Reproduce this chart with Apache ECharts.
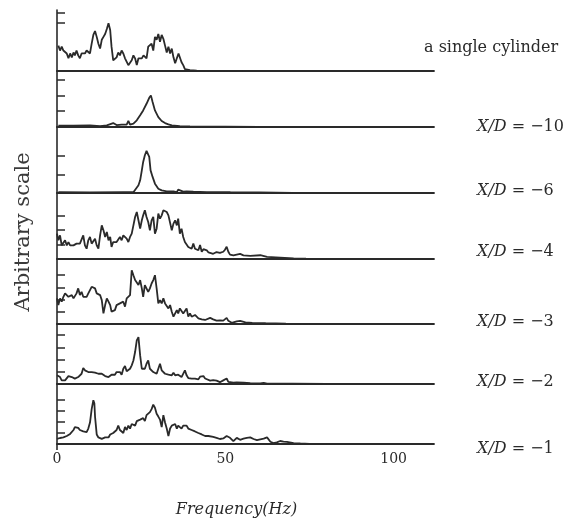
<!DOCTYPE html>
<html>
<head>
<meta charset="utf-8">
<script src="https://cdn.jsdelivr.net/npm/echarts@6/dist/echarts.min.js"></script>
<style>
  html, body { margin: 0; padding: 0; background: #fff; }
  #main { width: 579px; height: 519px; }
</style>
</head>
<body>
<div id="main"></div>
<script>
// spectra, [frequency Hz, amplitude in tick units]
var singleCylinder = [[0.4,2.6],[0.9,2.1],[1.4,2.5],[1.9,2.1],[2.4,2.3],[2.9,1.8],[3.4,1.3],[3.9,1.8],[4.4,1.4],[4.9,1.9],[5.3,1.6],[5.8,2.1],[6.3,1.6],[6.8,1.3],[7.3,1.8],[7.8,1.9],[8.3,1.8],[8.8,2.1],[9.3,1.9],[9.8,1.8],[10.3,2.8],[10.8,3.7],[11.3,4.1],[11.8,3.5],[12.3,2.8],[12.8,2.3],[13.3,3.2],[13.8,3.5],[14.3,3.8],[14.8,4.3],[15.3,4.9],[15.8,4.2],[16.2,2.5],[16.7,1.1],[17.2,0.9],[17.7,1.4],[18.2,1.9],[18.7,1.6],[19.2,2.1],[19.7,1.8],[20.2,1.3],[20.7,1.1],[21.2,0.6],[21.7,0.6],[22.2,1.1],[22.7,1.6],[23.2,1.3],[23.7,0.6],[24.2,1.3],[24.7,1.4],[25.2,1.3],[25.7,1.6],[26.1,1.4],[26.6,1.3],[27.1,2.5],[27.6,2.3],[28.1,2.8],[28.6,2.1],[29.1,3.5],[29.6,3.2],[30.1,3.8],[30.6,3.0],[31.1,3.7],[31.6,3.3],[32.1,2.6],[32.6,1.9],[33.1,2.5],[33.6,1.8],[34.1,2.3],[34.6,1.4],[35.1,0.8],[35.6,1.3],[36.1,1.8],[36.5,1.6],[37.0,0.9],[37.5,0.6],[38.0,0.2],[38.5,0.2],[39.5,0.1],[40.0,0.1],[41.5,0.03],[45,0.02],[55,0]];
var xd10 = [[0.4,0.08],[4.9,0.08],[9.8,0.1],[12.8,0.06],[14.8,0.1],[16.7,0.25],[17.7,0.12],[19.2,0.15],[20.7,0.15],[21.2,0.38],[21.7,0.15],[22.7,0.21],[23.7,0.42],[24.7,0.74],[25.6,1.05],[26.6,1.47],[27.4,1.85],[27.9,2.0],[28.4,1.58],[29.1,1.05],[30.1,0.63],[31.1,0.38],[32.1,0.25],[33.1,0.17],[34.1,0.1],[36.5,0.06],[39.5,0.04],[50,0.02],[60,0]];
var xd6 = [[0.4,0.04],[9.8,0.03],[19.7,0.04],[22.7,0.04],[23.2,0.11],[24.2,0.41],[24.7,0.68],[25.2,1.21],[25.6,1.66],[26.1,2.02],[26.6,2.25],[27.1,2.29],[27.4,1.93],[27.8,1.21],[28.4,0.86],[29.1,0.5],[30.1,0.23],[31.1,0.14],[32.6,0.09],[34.6,0.09],[35.6,0.05],[36.0,0.18],[36.5,0.11],[37.5,0.07],[38.5,0.09],[40.5,0.07],[44.5,0.05],[50.5,0.05],[51.0,0.11],[51.5,0.04],[60,0.03],[70,0]];
var xd4 = [[0,1.75],[0.4,1.29],[0.9,1.63],[1.4,0.94],[1.9,1.06],[2.4,1.29],[2.9,0.94],[3.4,1.17],[3.9,0.94],[4.4,1.06],[4.9,0.94],[5.3,0.83],[5.8,1.06],[6.3,0.94],[6.8,1.06],[7.3,1.17],[7.8,1.63],[8.3,0.94],[8.8,0.71],[9.3,1.29],[9.8,1.52],[10.3,1.06],[10.8,1.06],[11.3,1.4],[11.8,0.94],[12.3,0.71],[12.8,1.63],[13.3,2.32],[13.8,1.98],[14.3,1.52],[14.8,1.86],[15.3,1.29],[15.8,1.52],[16.2,0.83],[16.7,1.17],[17.2,1.06],[17.7,1.17],[18.2,1.29],[18.7,1.52],[19.2,1.29],[19.7,1.63],[20.2,1.52],[20.7,1.4],[21.2,1.17],[21.7,1.52],[22.2,1.75],[22.7,2.32],[23.2,2.9],[23.7,3.24],[24.2,2.67],[24.7,2.09],[25.2,2.67],[25.6,3.01],[26.1,3.36],[26.6,2.9],[27.1,2.55],[27.6,1.98],[28.1,2.67],[28.6,2.9],[29.1,1.75],[29.6,2.09],[30.1,3.13],[30.6,2.78],[31.1,3.01],[31.6,3.36],[32.1,3.47],[32.6,3.24],[33.1,3.01],[33.6,2.9],[34.1,1.98],[34.6,2.44],[35.1,2.67],[35.6,2.32],[36.0,2.78],[36.5,1.75],[37.0,2.09],[37.5,1.52],[38.0,1.17],[38.5,1.29],[39.0,0.83],[39.5,0.94],[40.0,0.71],[40.5,1.06],[41.0,0.71],[41.5,0.83],[42.0,0.6],[42.5,0.97],[43.0,0.5],[43.5,0.68],[44.0,0.6],[44.5,0.6],[45.0,0.45],[45.5,0.41],[46.4,0.36],[47.4,0.48],[48.4,0.42],[49.4,0.5],[49.9,0.64],[50.4,0.85],[50.9,0.5],[51.4,0.3],[51.9,0.18],[52.4,0.25],[53.4,0.3],[54.4,0.35],[55.4,0.25],[57.4,0.22],[60.4,0.26],[62.4,0.14],[66.3,0.1],[70.3,0.05],[74,0.02],[80,0]];
var xd3 = [[0,2.1],[0.4,1.55],[0.9,2.1],[1.4,1.83],[1.9,2.23],[2.4,2.51],[2.9,2.64],[3.4,2.23],[3.9,2.1],[4.4,2.37],[4.9,2.1],[5.3,2.23],[5.8,2.51],[6.3,2.92],[6.8,2.37],[7.3,2.64],[7.8,2.23],[8.3,2.37],[8.8,2.23],[9.3,2.51],[9.8,2.78],[10.3,3.05],[10.8,3.19],[11.3,2.92],[11.8,2.51],[12.3,2.37],[12.8,2.37],[13.3,1.96],[13.8,0.87],[14.3,1.55],[14.8,2.1],[15.3,1.83],[15.8,1.55],[16.2,1.01],[16.7,0.87],[17.2,1.14],[17.7,1.55],[18.2,1.55],[18.7,1.69],[19.2,1.69],[19.7,1.83],[20.2,1.42],[20.7,2.1],[21.2,2.23],[21.7,2.37],[22.2,4.41],[22.7,4.0],[23.2,3.6],[23.7,3.46],[24.2,3.19],[24.7,3.6],[25.2,2.92],[25.6,2.23],[26.1,3.19],[26.6,3.32],[27.1,2.64],[27.6,2.92],[28.1,3.32],[28.6,3.6],[29.1,4.0],[29.6,2.92],[30.1,1.69],[30.6,1.96],[31.1,1.69],[31.6,2.1],[32.1,1.69],[32.6,1.83],[33.1,1.28],[33.6,1.55],[34.1,1.01],[34.6,0.6],[35.1,0.74],[35.6,1.14],[36.0,0.87],[36.5,1.28],[37.0,1.14],[37.5,0.87],[38.0,1.01],[38.5,1.28],[39.0,0.6],[39.5,0.87],[40.0,0.6],[40.5,0.6],[41.0,0.74],[41.5,0.87],[42.0,0.46],[42.5,0.45],[43.0,0.38],[43.5,0.44],[44.0,0.33],[44.5,0.34],[45.5,0.5],[46.0,0.52],[46.4,0.38],[47.4,0.28],[48.4,0.3],[49.4,0.28],[49.9,0.38],[50.4,0.5],[50.9,0.26],[51.4,0.12],[51.9,0.1],[52.4,0.08],[53.4,0.22],[54.4,0.25],[56,0.14],[58,0.1],[62,0.07],[68,0.03],[75,0]];
var xd2 = [[0,0.71],[0.4,0.65],[0.9,0.57],[1.4,0.3],[1.9,0.22],[2.4,0.3],[2.9,0.44],[3.4,0.65],[3.9,0.49],[4.4,0.57],[4.9,0.49],[5.3,0.44],[5.8,0.49],[6.3,0.57],[6.8,0.71],[7.3,0.84],[7.8,1.31],[8.3,1.12],[8.8,0.98],[9.3,0.98],[9.8,1.04],[10.3,0.98],[10.8,0.98],[11.3,0.93],[11.8,0.98],[12.3,0.84],[12.8,0.76],[13.3,0.84],[13.8,0.71],[14.3,0.65],[14.8,0.71],[15.3,0.57],[15.8,0.65],[16.2,0.76],[16.7,0.65],[17.2,0.76],[17.7,0.98],[18.2,1.12],[18.7,0.98],[19.2,0.76],[19.7,1.25],[20.2,1.47],[20.7,1.04],[21.2,1.12],[21.7,1.25],[22.2,1.53],[22.7,1.93],[23.2,2.62],[23.7,3.57],[24.2,3.84],[24.7,2.34],[25.2,1.25],[25.6,1.39],[26.1,1.25],[26.6,1.66],[27.1,1.93],[27.6,1.25],[28.1,1.12],[28.6,0.98],[29.1,1.12],[29.6,0.84],[30.1,1.25],[30.6,1.66],[31.1,1.12],[31.6,0.98],[32.1,0.84],[32.6,0.98],[33.1,0.76],[33.6,0.84],[34.1,0.71],[34.6,0.93],[35.1,0.71],[35.6,0.57],[36.0,0.76],[36.5,0.71],[37.0,0.57],[37.5,0.49],[38.0,1.12],[38.5,0.71],[39.0,0.49],[39.5,0.57],[40.0,0.44],[40.5,0.3],[41.0,0.44],[41.5,0.49],[42.0,0.38],[42.5,0.6],[43.0,0.57],[43.5,0.65],[44.0,0.45],[44.5,0.35],[45.5,0.28],[46.4,0.32],[47.4,0.28],[48.4,0.15],[49.4,0.3],[49.9,0.28],[50.4,0.45],[50.9,0.18],[51.4,0.2],[52.4,0.11],[53.4,0.14],[55.4,0.11],[57.4,0.06],[60.4,0.05],[61.4,0.1],[62.4,0.03],[70,0.02],[80,0]];
var xd1 = [[0,0.46],[0.4,0.59],[0.9,0.54],[1.4,0.46],[1.9,0.59],[2.4,0.64],[2.9,0.72],[3.4,0.86],[3.9,0.91],[4.4,0.99],[4.9,1.26],[5.3,1.53],[5.8,1.66],[6.3,1.45],[6.8,1.26],[7.3,1.39],[7.8,1.13],[8.3,1.26],[8.8,1.07],[9.3,1.39],[9.8,1.93],[10.3,3.14],[10.8,3.94],[11.1,3.67],[11.3,2.47],[11.8,0.86],[12.3,0.59],[12.8,0.54],[13.3,0.46],[13.8,0.46],[14.3,0.59],[14.8,0.64],[15.3,0.59],[15.8,0.86],[16.2,0.72],[16.7,0.99],[17.2,0.86],[17.7,1.26],[18.2,1.66],[18.7,1.26],[19.2,1.39],[19.7,0.99],[20.2,1.53],[20.7,1.26],[21.2,1.66],[21.7,1.39],[22.2,1.8],[22.7,1.93],[23.2,1.66],[23.7,2.06],[24.2,1.93],[24.7,2.2],[25.2,2.06],[25.6,2.33],[26.1,2.06],[26.6,2.6],[27.1,2.47],[27.6,2.87],[28.1,3.14],[28.6,3.54],[29.1,3.27],[29.6,2.73],[30.1,2.47],[30.6,2.2],[31.1,1.53],[31.6,2.6],[32.1,1.93],[32.6,1.39],[33.1,0.72],[33.6,1.39],[34.1,1.66],[34.6,1.53],[35.1,1.8],[35.6,1.39],[36.0,1.66],[36.5,1.53],[37.0,1.39],[37.5,1.66],[38.0,1.8],[38.5,1.66],[39.0,1.39],[39.5,1.53],[40.0,1.26],[40.5,1.39],[41.0,1.13],[41.5,1.18],[42.0,0.99],[42.5,1.13],[43.0,0.86],[43.5,0.91],[44.0,0.72],[44.5,0.64],[45.0,0.72],[45.5,0.65],[46.4,0.64],[47.4,0.56],[48.4,0.45],[49.4,0.5],[49.9,0.62],[50.4,0.72],[50.9,0.59],[51.4,0.56],[51.9,0.46],[52.4,0.25],[53.4,0.55],[54.4,0.38],[55.4,0.48],[56.4,0.55],[57.4,0.6],[58.4,0.45],[59.4,0.35],[60.4,0.42],[61.4,0.48],[62.4,0.6],[63.4,0.2],[64.3,0.08],[65.3,0.15],[66.3,0.27],[67.3,0.22],[68.3,0.2],[70.3,0.08],[72.3,0.05],[75,0.02],[80,0]];

var spectra = [singleCylinder, xd10, xd6, xd4, xd3, xd2, xd1];
var caseLabels = ['a single cylinder', '{i|X/D} = \u221210', '{i|X/D} = \u22126', '{i|X/D} = \u22124',
  '{i|X/D} = \u22123', '{i|X/D} = \u22122', '{i|X/D} = \u22121'];
var yTicks = [[5,6],[1,2,3],[1,2],[1,2,3],[1,2,3,4],[1,2,3,4],[1,2,3,4]];
var xTickLabels = [0, 50, 100];
var xMax = 112;

// layout of the stacked panels (pixels)
var plotLeft = 57, plotWidth = 377;
var panelTop = [10, 71, 127, 193, 259, 324, 384];
var panelBase = [71, 127, 193, 259, 324, 384, 451];
var tickStep = [9.75, 15.8, 18.7, 14.5, 12.2, 12.2, 12.4];
var labelX = [424, 477, 477, 477, 477, 477, 477];
var labelY = [49, 128, 192, 253, 323, 383, 450];

var ink = '#2a2a2a';
var serif = 'DejaVu Serif';

var chart = echarts.init(document.getElementById('main'), null, { renderer: 'canvas' });

var grids = [], xAxes = [], yAxes = [], series = [], texts = [];
for (var i = 0; i < spectra.length; i++) {
  var last = i === spectra.length - 1;
  grids.push({ left: plotLeft, width: plotWidth, top: panelTop[i], height: panelBase[i] - panelTop[i] });
  xAxes.push({
    type: 'value', gridIndex: i, min: 0, max: xMax,
    axisLine: { show: true, lineStyle: { color: ink, width: 1.8 } },
    axisTick: { show: last, customValues: [0], inside: false, length: 6, lineStyle: { color: ink, width: 1.6 } },
    axisLabel: { show: last, customValues: xTickLabels, margin: 8, color: ink, fontFamily: serif, fontSize: 14 },
    splitLine: { show: false },
    name: last ? 'Frequency(Hz)' : '',
    nameLocation: 'middle',
    nameGap: 58,
    nameTextStyle: { color: ink, fontFamily: serif, fontStyle: 'italic', fontSize: 16, padding: [0, 18, 0, 0] }
  });
  yAxes.push({
    type: 'value', gridIndex: i, min: 0, max: (panelBase[i] - panelTop[i]) / tickStep[i],
    axisLine: { show: true, lineStyle: { color: ink, width: 1.6 } },
    axisTick: { show: true, inside: true, length: 8, customValues: yTicks[i], lineStyle: { color: ink, width: 1.5 } },
    axisLabel: { show: false },
    splitLine: { show: false }
  });
  series.push({
    type: 'line', xAxisIndex: i, yAxisIndex: i, data: spectra[i],
    showSymbol: false, smooth: false,
    lineStyle: { color: ink, width: 1.8 }
  });
  texts.push({
    type: 'text', left: labelX[i], top: labelY[i] - 9,
    style: {
      text: caseLabels[i], fill: ink, font: '16px "' + serif + '"',
      rich: { i: { fontStyle: 'italic', fontFamily: serif, fontSize: 16, fill: ink } }
    }
  });
}

texts.push({
  type: 'text', x: 24, y: 232, rotation: Math.PI / 2,
  style: { text: 'Arbitrary scale', fill: '#3a3a3a', font: '21px "' + serif + '"', textAlign: 'center', textVerticalAlign: 'middle' }
});

chart.setOption({
  animation: false,
  backgroundColor: '#fff',
  grid: grids,
  xAxis: xAxes,
  yAxis: yAxes,
  series: series,
  graphic: texts
});
</script>
</body>
</html>
